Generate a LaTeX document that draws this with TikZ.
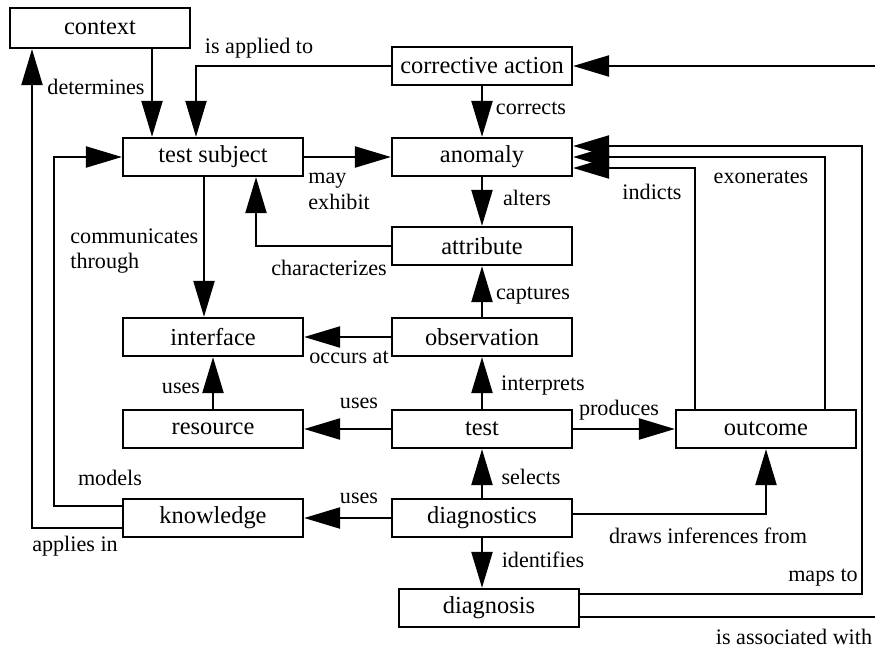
\documentclass[tikz,border=0pt]{standalone}
\usepackage{fontspec}
\setmainfont{Liberation Serif}
\usetikzlibrary{arrows.meta}
\tikzset{
  box/.style={draw, line width=1.3pt, minimum width=3.6cm, minimum height=0.76cm, inner sep=0pt, font=\fontsize{13.9}{15}\selectfont},
  rel/.style={inner sep=0pt, align=left, font=\fontsize{12.6}{14.7}\selectfont},
  wire/.style={line width=1.3pt},
  conn/.style={wire, -{Triangle[length=0.72cm,width=0.42cm]}},
}

\begin{document}
\begin{tikzpicture}[x=0.02cm, y=-0.02cm]
		%%%%% FRAME %%%%%
		\useasboundingbox (0,0) rectangle (875,652);
		
		%%%%% BOXES %%%%%
		\node[box, minimum height=0.8cm] (ctx) at (100, 28) {context};
		\node[box] (corr) at (482, 66) {corrective action};
		\node[box] (tsub) at (213, 157) {test subject};
		\node[box] (anom) at (482, 157) {anomaly};
		\node[box] (attr) at (482, 246) {attribute};
		\node[box] (intf) at (213, 337) {interface};
		\node[box] (obs) at (482, 337) {observation};
		\node[box] (res) at (213, 429) {resource};
		\node[box] (test) at (482, 429) {test};
		\node[box] (out) at (766, 429) {outcome};
		\node[box] (know) at (213, 518) {knowledge};
		\node[box] (dgs) at (482, 518) {diagnostics};
		\node[box] (dgn) at (489, 608) {diagnosis};
		
		%%%%% BEND POINTS %%%%%
		\coordinate (dtx) at (152, 0);
		\coordinate (iax) at (196, 0);
		\coordinate (comx) at (204, 0);
		\coordinate (chx) at (256, 0);
		\coordinate (modx) at (54, 0);
		\coordinate (apx) at (32, 0);
		\coordinate (indx) at (695, 0);
		\coordinate (exx) at (825, 0);
		\coordinate (mapx) at (862, 0);
		\coordinate (mody) at (0, 506);
		\coordinate (apy) at (0, 528);
		\coordinate (indy) at (0, 168);
		\coordinate (ouy) at (0, 146);
		\coordinate (dry) at (0, 514);
		\coordinate (mpy) at (0, 594);
		\coordinate (asy) at (0, 617);
		\coordinate (east1) at (875, 66);
		\coordinate (east2) at (875, 617);
		
		%%%%% CONNECTORS %%%%%
		\draw[conn] (ctx.south -| dtx) -- (tsub.north -| dtx);
		\draw[conn] (corr.west) -| (tsub.north -| iax);
		\draw[conn] (east1) -- (corr.east);
		\draw[conn] (corr.south) -- (anom.north);
		\draw[conn] (tsub.east) -- (anom.west);
		\draw[conn] (anom.south) -- (attr.north);
		\draw[conn] (attr.west) -| (tsub.south -| chx);
		\draw[conn] (tsub.south -| comx) -- (intf.north -| comx);
		\draw[conn] (obs.west) -- (intf.east);
		\draw[conn] (obs.north) -- (attr.south);
		\draw[conn] (test.north) -- (obs.south);
		\draw[conn] (test.west) -- (res.east);
		\draw[conn] (res.north) -- (intf.south);
		\draw[conn] (test.east) -- (out.west);
		\draw[conn] (dgs.north) -- (test.south);
		\draw[conn] (dgs.west) -- (know.east);
		\draw[conn] (dgs.east |- dry) -| (out.south);
		\draw[conn] (dgs.south) -- (dgs.south |- dgn.north);
		\draw[conn] (know.west |- mody) -| (modx |- tsub.west) -- (tsub.west);
		\draw[conn] (know.west |- apy) -| (ctx.south -| apx);
		\draw[conn] (out.north -| indx) |- (anom.east |- indy);
		\draw[conn] (out.north -| exx) |- (anom.east);
		\draw[conn] (dgn.east |- mpy) -| (mapx |- ouy) -- (anom.east |- ouy);
		\draw[wire] (dgn.east |- asy) -- (east2);
		
		%%%%% LABELS %%%%%
		\node[rel] (l-det) at (96, 87) {determines};
		\node[rel] (l-iat) at (259, 48) {is applied to};
		\node[rel] (l-cor) at (531, 108) {corrects};
		\node[rel] (l-alt) at (527, 198) {alters};
		\node[rel] (l-ind) at (652, 192) {indicts};
		\node[rel] (l-exo) at (761, 177) {exonerates};
		\node[rel, anchor=west] (l-may) at (308, 191) {may\\exhibit};
		\node[rel] (l-cha) at (329, 268) {characterizes};
		\node[rel, anchor=west] (l-com) at (70, 251) {communicates\\through};
		\node[rel] (l-cap) at (533, 296) {captures};
		\node[rel] (l-occ) at (349, 357) {occurs at};
		\node[rel] (l-int) at (543, 386) {interprets};
		\node[rel] (l-use1) at (181, 388) {uses};
		\node[rel] (l-use2) at (359, 403) {uses};
		\node[rel] (l-pro) at (619, 410) {produces};
		\node[rel] (l-mod) at (110, 478) {models};
		\node[rel] (l-sel) at (531, 477) {selects};
		\node[rel] (l-use3) at (359, 498) {uses};
		\node[rel] (l-dra) at (708, 536) {draws inferences from};
		\node[rel] (l-app) at (75, 546) {applies in};
		\node[rel] (l-ide) at (543, 560) {identifies};
		\node[rel] (l-map) at (823, 578) {maps to};
		\node[rel] (l-ass) at (794, 637) {is associated with};
		
		%%%%% END %%%%%
\end{tikzpicture}
\end{document}
